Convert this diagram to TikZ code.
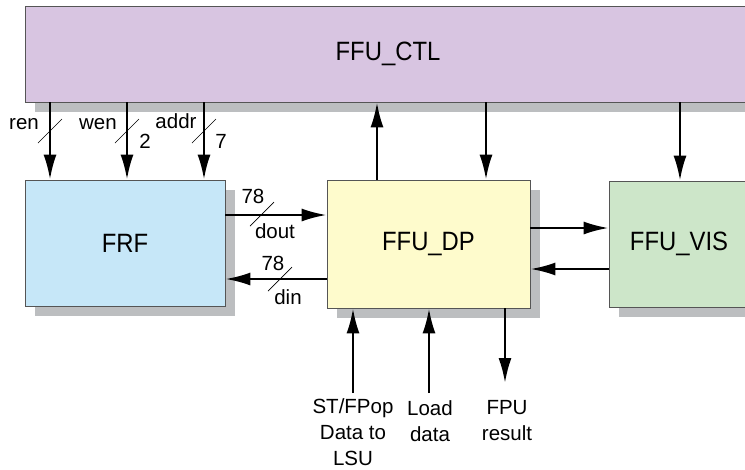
\documentclass[tikz,border=0pt]{standalone}
\usepackage{fontspec}
\setmainfont{Liberation Sans}
\usepackage{graphicx}
\usetikzlibrary{arrows.meta,shadows,calc}
\definecolor{ctlfill}{HTML}{D8C5E1}
\definecolor{frffill}{HTML}{C6E7F8}
\definecolor{dpfill}{HTML}{FEFBCC}
\definecolor{visfill}{HTML}{CDE6C9}
\definecolor{shade}{HTML}{BCBEC0}
\definecolor{edge}{HTML}{555555}
\newcommand{\ttl}[1]{\scalebox{0.9}[1]{\fontsize{26.5}{30}\selectfont #1}}
\tikzset{
  blk/.style={draw=edge, line width=0.8pt, inner sep=0pt,
    drop shadow={shadow xshift=10pt, shadow yshift=-10pt, fill=shade, opacity=1}},
  arr/.style={line width=2.4pt, -{Latex[length=25pt,width=13pt]}},
  slash/.style={line width=0.7pt},
  lbl/.style={inner sep=0pt, font=\fontsize{20.5}{26}\selectfont, align=center}
}
\begin{document}
\begin{tikzpicture}[x=1pt,y=-1pt]
\useasboundingbox (0,0) rectangle (745,469);
\begin{scope}
\clip (0,0) rectangle (745,469);
% boxes
\node[blk, fill=ctlfill, minimum width=726pt, minimum height=96pt] (ctl) at (388,54) {\ttl{FFU\_CTL}};
\node[blk, fill=frffill, minimum width=200pt, minimum height=126pt] (frf) at (125,243) {\ttl{FRF}};
\node[blk, fill=dpfill, minimum width=203pt, minimum height=128pt] (dp) at (428.5,244) {\ttl{FFU\_DP}};
\node[blk, fill=visfill, minimum width=140pt, minimum height=126pt] (vis) at (679,244) {\ttl{FFU\_VIS}};

% control arrows to FRF
\draw[arr] (ctl.south -| 50,0) -- (frf.north -| 50,0);
\draw[arr] (ctl.south -| 127,0) -- (frf.north -| 127,0);
\draw[arr] (ctl.south -| 204,0) -- (frf.north -| 204,0);
\draw[slash] (38,143) -- (62,119);
\draw[slash] (115,143) -- (139,119);
\draw[slash] (192,143) -- (216,119);
\node[lbl] (ren) at (24,124) {ren};
\node[lbl] (wen) at (98,124) {wen};
\node[lbl] (addr) at (176,121) {addr};
\node[lbl] (two) at (145,141) {2};
\node[lbl] (seven) at (221,141) {7};

% DP <-> CTL
\draw[arr] (dp.north -| 377,0) -- (ctl.south -| 377,0);
\draw[arr] (ctl.south -| 486,0) -- (dp.north -| 486,0);
\draw[arr] (ctl.south -| 680,0) -- (vis.north -| 680,0);

% FRF <-> DP
\draw[arr] (frf.east |- 0,215) -- (dp.west |- 0,215);
\draw[arr] (dp.west |- 0,279) -- (frf.east |- 0,279);
\draw[slash] (250,226) -- (274,202);
\draw[slash] (268,291) -- (292,267);
\node[lbl] (d78a) at (253,196) {78};
\node[lbl] (dout) at (275,231) {dout};
\node[lbl] (d78b) at (273,263) {78};
\node[lbl] (din) at (288,297) {din};

% DP <-> VIS
\draw[arr] (dp.east |- 0,228) -- (vis.west |- 0,228);
\draw[arr] (vis.west |- 0,269) -- (dp.east |- 0,269);

% bottom
\node[lbl] (st) at (353,432) {ST/FPop\\Data to\\LSU};
\node[lbl] (load) at (430,421) {Load\\data};
\node[lbl] (fpu) at (507,421) {FPU\\result};
\coordinate (stin) at (353,393);
\coordinate (ldin) at (429,393);
\coordinate (fpout) at (505,383);
\draw[arr] (stin) -- (dp.south -| stin);
\draw[arr] (ldin) -- (dp.south -| ldin);
\draw[arr] (dp.south -| fpout) -- (fpout);
\end{scope}
\end{tikzpicture}
\end{document}
